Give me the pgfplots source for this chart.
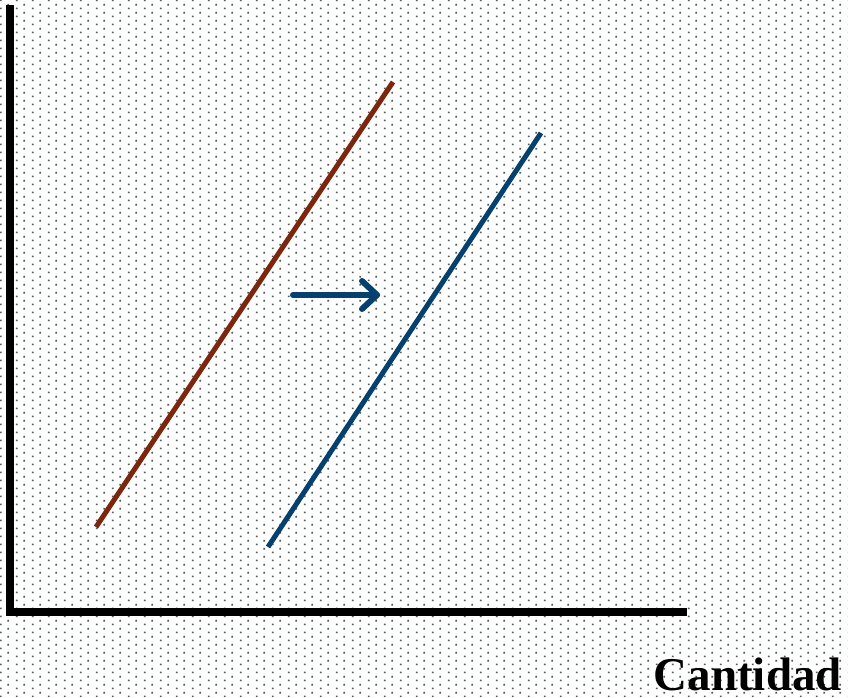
\documentclass[border=0pt]{standalone}
\usepackage{pgfplots}
\pgfplotsset{compat=1.18}
\usepackage{fontspec}
\setmainfont{Liberation Serif}
\usetikzlibrary{patterns.meta}
\definecolor{dotgray}{RGB}{75,88,84}
\definecolor{redline}{RGB}{125,38,14}
\definecolor{blueline}{RGB}{6,64,110}
\tikzdeclarepattern{
  name=bgdots,
  type=uncolored,
  bounding box={(0pt,0pt) and (16pt,8pt)},
  tile size={(16pt,8pt)},
  code={
    \fill (1pt,1pt) rectangle (2.8pt,2.8pt);
    \fill (9pt,5pt) rectangle (10.8pt,6.8pt);
  }
}
\begin{document}
\begin{tikzpicture}
\begin{axis}[
  scale only axis,
  width=848pt, height=697pt,
  xmin=0, xmax=848, ymin=0, ymax=697,
  hide axis, clip=false,
]
% background
\addplot[draw=none, fill=white, area legend] coordinates {(0,0) (848,0) (848,697) (0,697)} \closedcycle;
\addplot[draw=none, pattern=bgdots, pattern color=dotgray, area legend] coordinates {(0,0) (848,0) (848,697) (0,697)} \closedcycle;
% axes
\addplot[black, line width=8pt, no markers] coordinates {(10,692) (10,81)};
\addplot[black, line width=8pt, no markers] coordinates {(6,85) (687,85)};
% supply curves
\addplot[redline, line width=5pt, no markers] coordinates {(96,170) (393,615)};
\addplot[blueline, line width=5pt, no markers] coordinates {(268,150) (541,564)};
% shift arrow
\addplot[blueline, line width=6pt, line cap=round, no markers] coordinates {(293,402) (377,402)};
\addplot[blueline, line width=6pt, line cap=round, line join=round, no markers] coordinates {(362,416) (377,402) (362,388)};
\node[anchor=base east, inner sep=0pt, font=\fontsize{47}{50}\selectfont\bfseries] at (axis cs:842,7) {Cantidad};
\end{axis}
\end{tikzpicture}
\end{document}
